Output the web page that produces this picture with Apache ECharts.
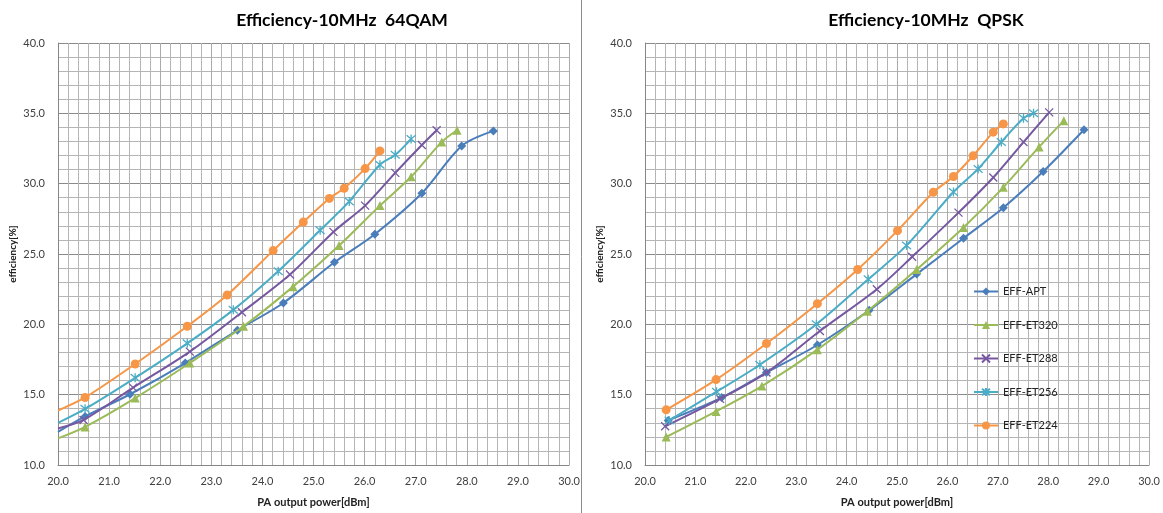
<!DOCTYPE html>
<html>
<head>
<meta charset="utf-8">
<script src="https://cdn.jsdelivr.net/npm/echarts@6/dist/echarts.min.js"></script>
<style>
html,body{margin:0;padding:0;background:#fff;}
#chart{width:1163px;height:513px;}
</style>
</head>
<body>
<div id="chart"></div>
<script>
// ---- Data ----
const seriesNames = ['EFF-APT', 'EFF-ET320', 'EFF-ET288', 'EFF-ET256', 'EFF-ET224'];
const titles = ['Efficiency-10MHz  64QAM', 'Efficiency-10MHz  QPSK'];
const xName = 'PA output power[dBm]';
const yName = 'efficiency[%]';

// 64QAM (left chart) : [PA output power dBm, efficiency %]
const qamAPT   = [[20.0,12.35],[20.53,13.45],[21.41,15.03],[22.49,17.25],[23.51,19.58],[24.41,21.52],[25.41,24.41],[26.2,26.41],[27.12,29.32],[27.9,32.68],[28.52,33.75]];
const qamET320 = [[20.0,11.89],[20.53,12.71],[21.51,14.76],[22.58,17.25],[23.63,19.86],[24.6,22.68],[25.5,25.6],[26.3,28.44],[26.91,30.49],[27.51,32.97],[27.81,33.8]];
const qamET288 = [[20.0,12.6],[20.5,13.2],[21.47,15.5],[22.58,18.06],[23.6,20.86],[24.54,23.54],[25.39,26.57],[26.01,28.44],[26.6,30.77],[27.12,32.75],[27.41,33.8]];
const qamET256 = [[20.0,13.0],[20.53,13.99],[21.51,16.2],[22.53,18.65],[23.43,21.03],[24.31,23.78],[25.13,26.69],[25.7,28.74],[26.3,31.35],[26.6,32.05],[26.91,33.17]];
const qamET224 = [[20.0,13.87],[20.53,14.8],[21.51,17.18],[22.53,19.86],[23.31,22.08],[24.21,25.24],[24.8,27.27],[25.31,28.95],[25.6,29.67],[26.01,31.07],[26.3,32.33]];

// QPSK (right chart)
const qpskAPT   = [[20.46,13.17],[21.52,14.79],[22.41,16.57],[23.42,18.53],[24.45,21.0],[25.39,23.57],[26.32,26.12],[27.11,28.29],[27.9,30.86],[28.71,33.83]];
const qpskET320 = [[20.42,11.99],[21.41,13.81],[22.32,15.61],[23.42,18.2],[24.41,20.93],[25.39,23.9],[26.32,26.89],[27.11,29.74],[27.82,32.61],[28.31,34.48]];
const qpskET288 = [[20.4,12.75],[21.49,14.7],[22.41,16.57],[23.47,19.53],[24.6,22.5],[25.3,24.8],[26.22,27.94],[26.91,30.44],[27.51,32.96],[28.02,35.07]];
const qpskET256 = [[20.48,13.17],[21.42,15.21],[22.28,17.13],[23.4,20.0],[24.43,23.2],[25.19,25.61],[26.12,29.41],[26.61,31.05],[27.07,32.96],[27.51,34.65],[27.71,35.0]];
const qpskET224 = [[20.42,13.92],[21.41,16.07],[22.41,18.64],[23.42,21.47],[24.22,23.9],[25.01,26.66],[25.72,29.39],[26.12,30.51],[26.51,31.98],[26.91,33.66],[27.11,34.25]];

const leftData = [qamAPT, qamET320, qamET288, qamET256, qamET224];
const rightData = [qpskAPT, qpskET320, qpskET288, qpskET256, qpskET224];

// ---- Styles ----
const colors = ['#4A7EBB', '#9BBB59', '#7658A0', '#4BACC6', '#F79646'];
const symbols = [
  'diamond',
  'triangle',
  'path://M0,0L10,10M10,0L0,10',
  'path://M0,0L10,10M10,0L0,10M5,-1L5,11',
  'circle'
];
const symbolSizes = [9, 9, 8, 9, 9];
const strokeSymbol = [false, false, true, true, false];

const FONT = 'Lato, "Open Sans", sans-serif';

function makeSeries(dataSets, idx) {
  return dataSets.map((d, i) => ({
    name: seriesNames[i],
    type: 'line',
    xAxisIndex: idx,
    yAxisIndex: idx,
    smooth: 0.3,
    symbol: symbols[i],
    symbolSize: symbolSizes[i],
    showAllSymbol: true,
    clip: true,
    z: 3 + i,
    lineStyle: { color: colors[i], width: 2 },
    itemStyle: strokeSymbol[i]
      ? { color: colors[i], borderColor: colors[i], borderWidth: 1.3 }
      : { color: colors[i], borderColor: colors[i], borderWidth: 0 },
    data: d.map(p => (p[0] <= 20.0 ? { value: p, symbol: 'none' } : { value: p })),
    emphasis: { disabled: true }
  }));
}

function xAxis(idx) {
  return {
    type: 'value', gridIndex: idx, min: 20, max: 30, interval: 1,
    name: xName, nameLocation: 'middle', nameGap: 32,
    nameTextStyle: { fontFamily: FONT, fontWeight: 'bold', fontSize: 11, color: '#222' },
    axisLine: { show: true, onZero: false, lineStyle: { color: '#868686', width: 1 } },
    axisTick: { show: false },
    axisLabel: { margin: 11, fontFamily: FONT, fontSize: 11, color: '#404040', formatter: v => v.toFixed(1) },
    splitLine: { show: true, lineStyle: { color: '#ABABAB', width: 1 } },
    minorTick: { show: false, splitNumber: 5 },
    minorSplitLine: { show: true, lineStyle: { color: '#B5B5B5', width: 1 } }
  };
}
function yAxis(idx) {
  return {
    type: 'value', gridIndex: idx, min: 10, max: 40, interval: 5,
    name: yName, nameLocation: 'middle', nameGap: 40,
    nameTextStyle: { fontFamily: FONT, fontWeight: 'bold', fontSize: 10, color: '#222' },
    axisLine: { show: true, onZero: false, lineStyle: { color: '#868686', width: 1 } },
    axisTick: { show: false },
    axisLabel: { margin: 13, fontFamily: FONT, fontSize: 11, color: '#404040', formatter: v => v.toFixed(1) },
    splitLine: { show: true, lineStyle: { color: '#8A8A8A', width: 1 } },
    minorTick: { show: false, splitNumber: 5 },
    minorSplitLine: { show: true, lineStyle: { color: '#B5B5B5', width: 1 } }
  };
}

const chart = echarts.init(document.getElementById('chart'), null, { renderer: 'canvas' });
chart.setOption({
  backgroundColor: '#fff',
  animation: false,
  title: [
    { text: titles[0], left: 337, top: 6, textAlign: 'center',
      textStyle: { fontFamily: FONT, fontWeight: 'bold', fontSize: 17.5, color: '#000' } },
    { text: titles[1], left: 921, top: 6, textAlign: 'center',
      textStyle: { fontFamily: FONT, fontWeight: 'bold', fontSize: 17.5, color: '#000' } }
  ],
  grid: [
    { left: 58, top: 43, width: 511, height: 429 },
    { left: 645, top: 43, width: 504, height: 428 }
  ],
  xAxis: [xAxis(0), xAxis(1)],
  yAxis: [yAxis(0), yAxis(1)],
  legend: {
    data: seriesNames,
    orient: 'vertical',
    left: 968, top: 281,
    itemWidth: 24, itemHeight: 10, itemGap: 22.5,
    textStyle: { fontFamily: FONT, fontSize: 11, color: '#222' },
    selectedMode: false
  },
  graphic: [
    { type: 'line', shape: { x1: 581.5, y1: 0, x2: 581.5, y2: 513 }, style: { stroke: '#8C8C8C', lineWidth: 1 }, z: 10 }
  ],
  series: makeSeries(leftData, 0).concat(makeSeries(rightData, 1))
});
</script>
</body>
</html>
